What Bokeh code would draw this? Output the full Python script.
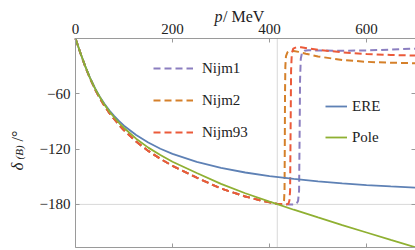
from bokeh.plotting import figure
from bokeh.models import FixedTicker, LinearAxis, Label, Legend, LegendItem, Range1d
from bokeh.embed import file_html
from bokeh.resources import INLINE
import math

# ---------------- data ----------------
x_ticks = [0, 200, 400, 600]
x_tick_labels = ["0", "200", "400", "600"]
y_ticks = [-60, -120, -180]
y_tick_labels = ["\u221260", "\u2212120", "\u2212180"]
grid_x = [416]
grid_y = [-180]

ere_p = [0, 10, 20, 30, 41, 50, 60, 70, 80, 90, 100, 125, 150, 175, 200, 250, 300,
         350, 400, 450, 500, 550, 600, 650, 700]
ere_d = [0, -15.5, -30.0, -42.8, -54.8, -63.2, -71.2, -78.2, -84.2, -89.7, -94.6, -104.7,
         -112.9, -119.6, -125.2, -133.9, -140.3, -145.4, -149.3, -152.4, -155.0, -157.2,
         -159.0, -160.5, -161.8]

pole_p = [0, 10, 20, 30, 41, 50, 60, 70, 80, 90, 100, 125, 150, 175, 200, 250, 300,
          350, 400, 416, 450, 500, 550, 600, 650, 700]
pole_d = [0, -15.5, -30.0, -42.9, -55.1, -63.5, -72.0, -79.3, -85.7, -91.7, -97.1, -108.7,
          -118.4, -126.5, -133.7, -146.0, -157.8, -167.9, -177.0, -179.8, -185.8, -194.2,
          -202.4, -210.5, -218.5, -226.4]

nijm_low_p = [0, 10, 20, 30, 41, 50, 60, 70, 80, 90, 100, 125, 150, 175, 200, 250, 300,
              350, 380, 400, 415, 425]
nijm_low_d = [0, -15.6, -30.3, -43.3, -55.8, -64.5, -73.3, -80.9, -87.6, -93.9, -99.6,
              -111.8, -122.0, -130.6, -138.2, -151.0, -162.8, -171.4, -175.5, -177.8,
              -179.2, -179.7]

nijm1_high_p = [440, 452, 456, 459, 461, 462, 463, 464.5, 467, 472, 480, 500, 550, 600, 650, 700]
nijm1_high_d = [-180, -180, -179.2, -176, -165, -110, -45, -22, -15.5, -13.3, -12.8, -13.0,
                -13.3, -13.0, -12.0, -11.0]

nijm2_high_p = [428, 430, 431, 431.5, 432, 432.7, 434, 437, 442, 450, 460, 475, 500, 550,
                600, 650, 700]
nijm2_high_d = [-179.6, -176, -165, -120, -60, -30, -19, -15, -13.5, -13.5, -14.5, -16.5,
                -19.5, -23.3, -25.3, -26.3, -26.8]

nijm93_high_p = [435, 439, 441, 442.5, 443.5, 444.5, 446, 449, 455, 465, 480, 500, 550, 600,
                 650, 700]
nijm93_high_d = [-180, -179.3, -176, -165, -100, -35, -16, -11, -9.5, -9.5, -10.8, -12.3,
                 -15.0, -16.8, -17.9, -18.5]

# ---------------- style ----------------
C_ERE = "#5E81B5"
C_POLE = "#8FB032"
C_N1 = "#8B7EC0"
C_N2 = "#D5802A"
C_N93 = "#EB5A3A"
FRAME = "#9a9a9a"
TXT = "#222222"
FONT = "Liberation Serif"
FONT_AX = '"Liberation Serif", serif'
FONT_LEG = "Liberation Serif, serif"
DASH = "7 4"

XMIN, XMAX = 0, 700
YMIN, YMAX = -227, 0
# page-pixel geometry of the plotting box; the canvas fills the page 0..415 x 0..250
PX0, PX1, PY0, PY1 = 75, 414.5, 38, 247.2
CL, CR, CT, CB = 0, 415, 0, 250

def dx(px):
    return XMIN + (px - PX0) / (PX1 - PX0) * (XMAX - XMIN)

def dy(py):
    return YMAX - (py - PY0) / (PY1 - PY0) * (YMAX - YMIN)

p = figure(width=CR - CL, height=CB - CT,
           x_range=Range1d(dx(CL), dx(CR)), y_range=Range1d(dy(CB), dy(CT)),
           x_axis_location="above", output_backend="svg", toolbar_location=None,
           min_border_left=0, min_border_right=0, min_border_top=0, min_border_bottom=0)
p.outline_line_color = None
p.background_fill_color = "white"
p.border_fill_color = "white"
p.xgrid.visible = False
p.ygrid.visible = False

def style_axis(ax, show_labels, loc, bounds):
    ax.fixed_location = loc
    ax.bounds = bounds
    ax.axis_line_color = FRAME
    ax.major_tick_line_color = FRAME
    ax.major_tick_in = 4
    ax.major_tick_out = 0
    ax.minor_tick_line_color = None
    if show_labels:
        ax.major_label_text_font = FONT_AX
        ax.major_label_text_font_size = "15px"
        ax.major_label_text_color = TXT
        ax.major_label_standoff = 5
    else:
        ax.major_label_text_font_size = "0px"
        ax.major_label_text_color = None
        ax.major_label_standoff = 0

p.xaxis.ticker = FixedTicker(ticks=x_ticks)
p.xaxis.major_label_overrides = dict(zip(x_ticks, x_tick_labels))
style_axis(p.xaxis[0], True, YMAX, (XMIN, XMAX))
p.yaxis.ticker = FixedTicker(ticks=y_ticks)
p.yaxis.major_label_overrides = dict(zip(y_ticks, y_tick_labels))
style_axis(p.yaxis[0], True, XMIN, (YMIN, YMAX))

bottom = LinearAxis(ticker=FixedTicker(ticks=x_ticks))
style_axis(bottom, False, YMIN, (XMIN, XMAX))
p.add_layout(bottom, "below")
right = LinearAxis(ticker=FixedTicker(ticks=y_ticks))
style_axis(right, False, XMAX, (YMIN, YMAX))
p.add_layout(right, "right")

# reference grid lines (one vertical, one horizontal)
p.segment(x0=grid_x, y0=[YMIN] * len(grid_x), x1=grid_x, y1=[YMAX] * len(grid_x),
          line_color="#d8d8d8", line_width=1)
p.segment(x0=[XMIN] * len(grid_y), y0=grid_y, x1=[XMAX] * len(grid_y), y1=grid_y,
          line_color="#d8d8d8", line_width=1)

r_n1 = p.line(nijm_low_p + nijm1_high_p, nijm_low_d + nijm1_high_d, line_color=C_N1,
              line_width=2, line_dash=DASH, line_join="round")
r_n2 = p.line(nijm_low_p + nijm2_high_p, nijm_low_d + nijm2_high_d, line_color=C_N2,
              line_width=2, line_dash=DASH, line_join="round")
r_n93 = p.line(nijm_low_p + nijm93_high_p, nijm_low_d + nijm93_high_d, line_color=C_N93,
               line_width=2, line_dash=DASH, line_join="round")
r_ere = p.line(ere_p, ere_d, line_color=C_ERE, line_width=1.8)
r_pole = p.line(pole_p, pole_d, line_color=C_POLE, line_width=1.8)

leg1 = Legend(items=[LegendItem(label="Nijm1", renderers=[r_n1]),
                     LegendItem(label="Nijm2", renderers=[r_n2]),
                     LegendItem(label="Nijm93", renderers=[r_n93])],
              location=(153 - CL, CB - 142), glyph_width=40, glyph_height=20,
              label_height=20, spacing=12, label_standoff=9, padding=0, margin=0,
              background_fill_alpha=0, border_line_color=None,
              label_text_font=FONT_LEG, label_text_font_size="15px", label_text_color=TXT)
leg2 = Legend(items=[LegendItem(label="ERE", renderers=[r_ere]),
                     LegendItem(label="Pole", renderers=[r_pole])],
              location=(325 - CL, CB - 147), glyph_width=22, glyph_height=20,
              label_height=20, spacing=11, label_standoff=5, padding=0, margin=0,
              background_fill_alpha=0, border_line_color=None,
              label_text_font=FONT_LEG, label_text_font_size="15px", label_text_color=TXT)
p.add_layout(leg1)
p.add_layout(leg2)

def lab(px, py, text, **kw):
    p.add_layout(Label(x=dx(px), y=dy(py), text=text, text_baseline="alphabetic",
                       text_font=FONT, text_color=TXT, **kw))

lab(222, 15.5, "p", text_align="right", text_font_style="italic", text_font_size="16px")
lab(222.5, 15.5, "/ MeV", text_align="left", text_font_size="16px")
lab(17, 170, "\u03b4", angle=math.pi / 2, text_align="left", text_font_style="italic",
    text_font_size="17px")
lab(18.5, 159, "(B)", angle=math.pi / 2, text_align="left", text_font_style="italic",
    text_font_size="11px")
lab(17, 141, "/\u00b0", angle=math.pi / 2, text_align="left", text_font_size="16px")

open("out.html", "w").write(file_html(p, INLINE))
